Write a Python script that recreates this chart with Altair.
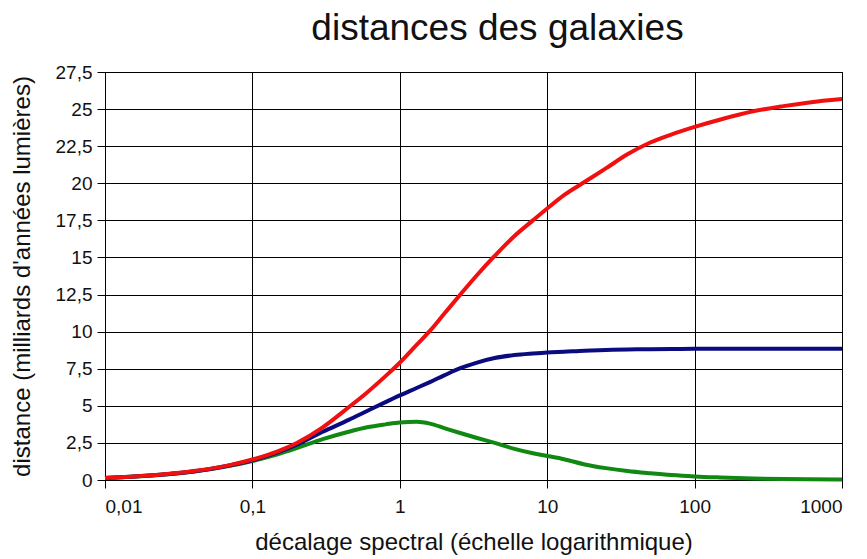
import altair as alt
import pandas as pd

# redshift values (x)
z = [0.01, 0.02, 0.04, 0.07, 0.1, 0.15, 0.2, 0.3, 0.45, 0.6, 0.8, 1, 1.3, 1.6, 2,
     2.6, 3.3, 4.4, 6, 8, 10, 13, 18, 25, 35, 50, 70, 100, 150, 250, 400, 600, 1000]

red = [0.14, 0.3, 0.6, 1.0, 1.38, 1.95, 2.5, 3.55, 4.9, 5.9, 7.0, 7.9, 9.1, 10.05, 11.2,
       12.55, 13.75, 15.1, 16.45, 17.5, 18.3, 19.2, 20.1, 21.0, 21.95, 22.75, 23.3, 23.8,
       24.3, 24.85, 25.2, 25.45, 25.68]

blue = [0.14, 0.3, 0.58, 0.98, 1.33, 1.88, 2.38, 3.25, 4.05, 4.65, 5.25, 5.7, 6.2, 6.6, 7.05,
        7.55, 7.9, 8.22, 8.42, 8.53, 8.6, 8.65, 8.72, 8.76, 8.8, 8.82, 8.83, 8.84,
        8.85, 8.85, 8.85, 8.85, 8.85]

green = [0.14, 0.29, 0.57, 0.95, 1.28, 1.75, 2.15, 2.75, 3.25, 3.55, 3.75, 3.88, 3.92, 3.8, 3.5,
         3.15, 2.85, 2.5, 2.1, 1.8, 1.62, 1.4, 1.05, 0.8, 0.6, 0.45, 0.33, 0.24,
         0.17, 0.1, 0.065, 0.045, 0.026]

x_ticks = [0.01, 0.1, 1, 10, 100, 1000]
y_ticks = [0, 2.5, 5, 7.5, 10, 12.5, 15, 17.5, 20, 22.5, 25, 27.5]

series = [("vert", green, "#118811"), ("bleu", blue, "#0b0b80"), ("rouge", red, "#f01010")]

FONT = "Liberation Sans"
label_expr = "replace(toString(datum.value), '.', ',')"

x_enc = alt.X(
    "z:Q",
    scale=alt.Scale(type="log", domain=[0.01, 1000], nice=False),
    axis=alt.Axis(values=x_ticks, labelExpr=label_expr,
                  title="décalage spectral (échelle logarithmique)",
                  labelPadding=9, titlePadding=14),
)
y_enc = alt.Y(
    "d:Q",
    scale=alt.Scale(domain=[0, 27.5], nice=False, zero=True),
    axis=alt.Axis(values=y_ticks, labelExpr=label_expr,
                  title="distance (milliards d'années lumières)",
                  labelPadding=5, titlePadding=21),
)

layers = []
for name, vals, col in series:
    df = pd.DataFrame({"z": z, "d": vals})
    layers.append(
        alt.Chart(df).mark_line(strokeWidth=4, interpolate="monotone", color=col)
        .encode(x=x_enc, y=y_enc)
    )

chart = alt.layer(*layers).properties(
    width=737,
    height=408,
    background="white",
    autosize=alt.AutoSizeParams(type="none"),
    padding={"left": 97, "top": 64, "right": 17, "bottom": 79},
    title=alt.TitleParams("distances des galaxies", fontSize=37, font=FONT,
                          fontWeight="normal", color="#111111", dx=24, offset=15),
).configure_view(
    stroke="black", strokeWidth=1, fill="white"
).configure_axis(
    grid=True, gridColor="black", gridOpacity=1, gridWidth=1,
    domainColor="black", domainWidth=1,
    tickColor="black", tickSize=8, tickWidth=1,
    labelFont=FONT, labelFontSize=19, labelColor="#111111",
    titleFont=FONT, titleFontSize=24, titleFontWeight="normal", titleColor="#111111",
)

chart.save("out.html", embed_options={"renderer": "svg", "actions": False})
